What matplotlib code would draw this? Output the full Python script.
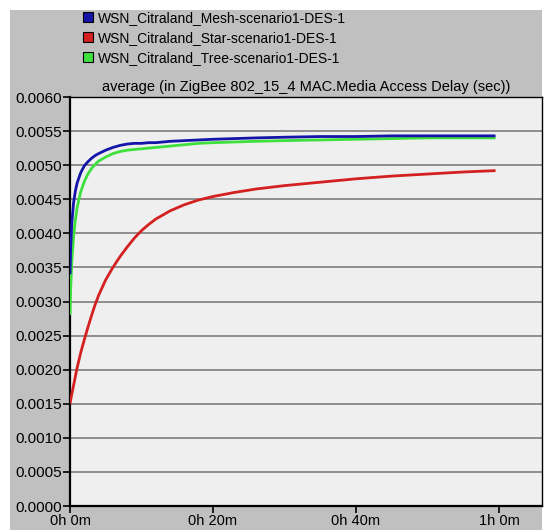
import matplotlib
matplotlib.use("Agg")
import matplotlib.pyplot as plt
from matplotlib.patches import Patch, Rectangle

plt.rcParams['font.family'] = ['Liberation Sans', 'DejaVu Sans']

# Simulation time (minutes) of each averaged sample
time_min = [0, 0.1, 0.25, 0.5, 0.75, 1, 1.5, 2, 2.5, 3, 3.5, 4, 5, 6, 7, 8, 9,
            10, 11, 12, 14, 16, 18, 20, 23, 26, 30, 35, 40, 45, 50, 55, 59.5]

mesh_delay = [0.00340, 0.00380, 0.00415, 0.00445, 0.00462, 0.00474, 0.00489,
              0.00499, 0.00505, 0.00510, 0.00514, 0.00517, 0.00522, 0.00526,
              0.00529, 0.00531, 0.00532, 0.00532, 0.00533, 0.00533, 0.00535,
              0.00536, 0.00537, 0.00538, 0.00539, 0.00540, 0.00541, 0.00542,
              0.00542, 0.00543, 0.00543, 0.00543, 0.00543]

star_delay = [0.00150, 0.00156, 0.00164, 0.00177, 0.00190, 0.00203, 0.00225,
              0.00244, 0.00262, 0.00279, 0.00295, 0.00309, 0.00332, 0.00350,
              0.00366, 0.00380, 0.00393, 0.00404, 0.00413, 0.00421, 0.00433,
              0.00442, 0.00449, 0.00454, 0.00460, 0.00465, 0.00470, 0.00475,
              0.00480, 0.00484, 0.00487, 0.00490, 0.00492]

tree_delay = [0.00280, 0.00320, 0.00358, 0.00395, 0.00420, 0.00438, 0.00461,
              0.00476, 0.00487, 0.00495, 0.00501, 0.00506, 0.00512, 0.00517,
              0.00520, 0.00522, 0.00523, 0.00524, 0.00525, 0.00526, 0.00528,
              0.00530, 0.00532, 0.00533, 0.00534, 0.00535, 0.00536, 0.00537,
              0.00538, 0.00539, 0.00540, 0.00540, 0.00540]

series_names = ["WSN_Citraland_Mesh-scenario1-DES-1",
                "WSN_Citraland_Star-scenario1-DES-1",
                "WSN_Citraland_Tree-scenario1-DES-1"]
series_colors = ["#1414a8", "#d42020", "#3ee03e"]

x_ticks = [0, 20, 40, 60]
x_tick_labels = ["0h 0m", "0h 20m", "0h 40m", "1h 0m"]
y_ticks = [i * 0.0005 for i in range(13)]
title = "average (in ZigBee 802_15_4 MAC.Media Access Delay (sec))"

W, H = 547, 530
fig = plt.figure(figsize=(W / 100, H / 100), dpi=100)
fig.patch.set_facecolor("white")
fig.patches.append(Rectangle((10 / W, 0), (542 - 10) / W, (H - 10) / H,
                             transform=fig.transFigure, facecolor="#c0c0c0",
                             edgecolor="none", zorder=-10))

left, right, top, bottom = 70, 542, 97, 506
ax = fig.add_axes([left / W, 1 - bottom / H, (right - left) / W, (bottom - top) / H])
ax.set_zorder(1)
ax.set_facecolor("#efefef")

for vals, color in zip([tree_delay, star_delay, mesh_delay],
                       [series_colors[2], series_colors[1], series_colors[0]]):
    ax.plot(time_min, vals, color=color, lw=2.0, solid_capstyle="butt",
            solid_joinstyle="round", zorder=3)

ax.set_xlim(0, 66.0)
ax.set_ylim(0, 0.006)
ax.set_xticks(x_ticks)
ax.set_xticklabels(x_tick_labels)
ax.set_yticks(y_ticks)
ax.set_yticklabels([f"{v:.4f}" for v in y_ticks])
ax.yaxis.grid(True, color="#8e8e8e", lw=1.4)
ax.xaxis.grid(False)
ax.set_axisbelow(True)
ax.tick_params(axis="both", direction="out", length=5, width=1.2, color="black",
               labelsize=10.5, pad=1)
ax.tick_params(axis="y", labelsize=11)
for s in ax.spines.values():
    s.set_color("black")
    s.set_linewidth(1.0)
ax.spines["left"].set_linewidth(1.6)
ax.spines["bottom"].set_linewidth(1.6)

ax.set_title(title, fontsize=10.5, pad=4)

handles = [Patch(facecolor=c, edgecolor="black", lw=0.8) for c in series_colors]
fig.legend(handles, series_names, loc="upper left",
           bbox_to_anchor=(83 / W, 1 - 11 / H), frameon=False, fontsize=10,
           handlelength=0.75, handleheight=0.75, handletextpad=0.3,
           labelspacing=0.42, borderpad=0, borderaxespad=0)

fig.savefig("out.png", dpi=100, facecolor=fig.get_facecolor())
